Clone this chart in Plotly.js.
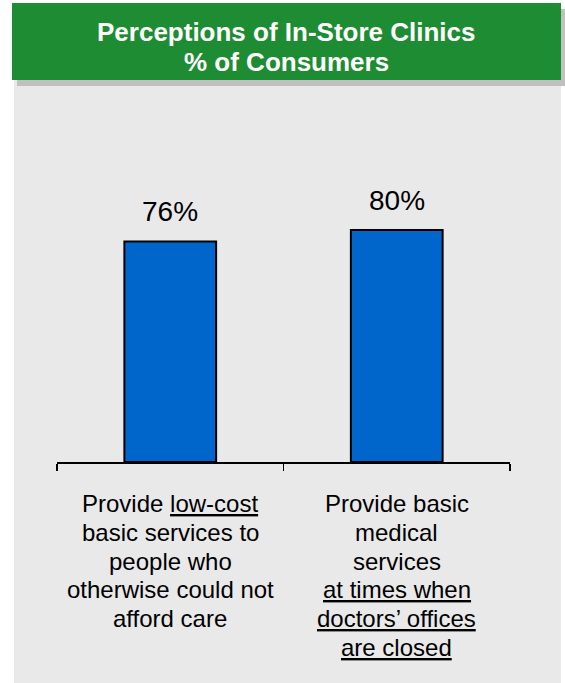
<!DOCTYPE html>
<html>
<head>
<meta charset="utf-8">
<script src="https://cdn.plot.ly/plotly-3.0.1.min.js"></script>
<style>html,body{margin:0;padding:0;background:#fff;}#chart{width:565px;height:683px;}</style>
</head>
<body>
<div id="chart"></div>
<script>
// ---- data ----
const titleLines = ["Perceptions of In-Store Clinics", "% of Consumers"];
const categories = ["Low-cost care", "After-hours care"];
const values = [76, 80];
const valueLabels = ["76%", "80%"];
const categoryLines = [
  ["Provide <u>low-cost</u>", "basic services to", "people who", "otherwise could not", "afford care"],
  ["Provide basic", "medical", "services", "<u>at times when</u>", "<u>doctors’ offices</u>", "<u>are closed</u>"]
];

// ---- layout helpers ----
const W = 565, H = 683;
const M = {l: 57, r: 55, t: 172, b: 221};
const plotW = W - M.l - M.r, plotH = H - M.t - M.b;
const px = x => (x - M.l) / plotW;
const py = y => (H - M.b - y) / plotH;
const FONT = "Liberation Sans, Arial, sans-serif";

const shapes = [
  {type: "rect", xref: "paper", yref: "paper", layer: "below",
   x0: px(14), x1: px(561), y0: py(80), y1: py(H + 5), fillcolor: "#e9e9e9", line: {width: 0}},
  {type: "rect", xref: "paper", yref: "paper", layer: "below",
   x0: px(17), x1: px(566), y0: py(9), y1: py(86), fillcolor: "#c0c0c0", line: {width: 0}},
  {type: "rect", xref: "paper", yref: "paper", layer: "below",
   x0: px(12), x1: px(561), y0: py(3), y1: py(80), fillcolor: "#1e8c32", line: {width: 0}}
];

const annotations = [];
titleLines.forEach((t, i) => {
  annotations.push({xref: "paper", yref: "paper", x: px(286.5), y: py(32 + 30 * i),
    xanchor: "center", yanchor: "middle", showarrow: false, text: "<b>" + t + "</b>",
    font: {family: FONT, size: 26, color: "#ffffff"}});
});
values.forEach((v, i) => {
  annotations.push({xref: "x", yref: "y", x: i, y: v, xanchor: "center", yanchor: "middle",
    yshift: 30, showarrow: false, text: valueLabels[i],
    font: {family: FONT, size: 28, color: "#000000"}});
});
categoryLines.forEach((lines, c) => {
  lines.forEach((t, i) => {
    annotations.push({xref: "x", yref: "paper", x: c, y: 0, xanchor: "center", yanchor: "middle",
      yshift: -(41.6 + 28.7 * i), showarrow: false, text: t,
      font: {family: FONT, size: 24, color: "#000000"}});
  });
});

const trace = {
  type: "bar", x: categories, y: values, width: 0.405,
  marker: {color: "#0066cc", line: {color: "#000000", width: 2}},
  hoverinfo: "none"
};

const layout = {
  width: W, height: H, margin: M,
  paper_bgcolor: "#ffffff", plot_bgcolor: "rgba(0,0,0,0)",
  showlegend: false,
  xaxis: {type: "category", range: [-0.5, 1.5], showgrid: false, zeroline: false,
    showline: true, linecolor: "#000000", linewidth: 1.5,
    ticks: "outside", tickson: "boundaries", ticklen: 7, tickwidth: 1.5, tickcolor: "#000000",
    showticklabels: false, fixedrange: true},
  yaxis: {range: [0, 100], visible: false, showgrid: false, zeroline: false, fixedrange: true},
  shapes: shapes, annotations: annotations
};

Plotly.newPlot("chart", [trace], layout, {staticPlot: true, displayModeBar: false});
</script>
</body>
</html>
